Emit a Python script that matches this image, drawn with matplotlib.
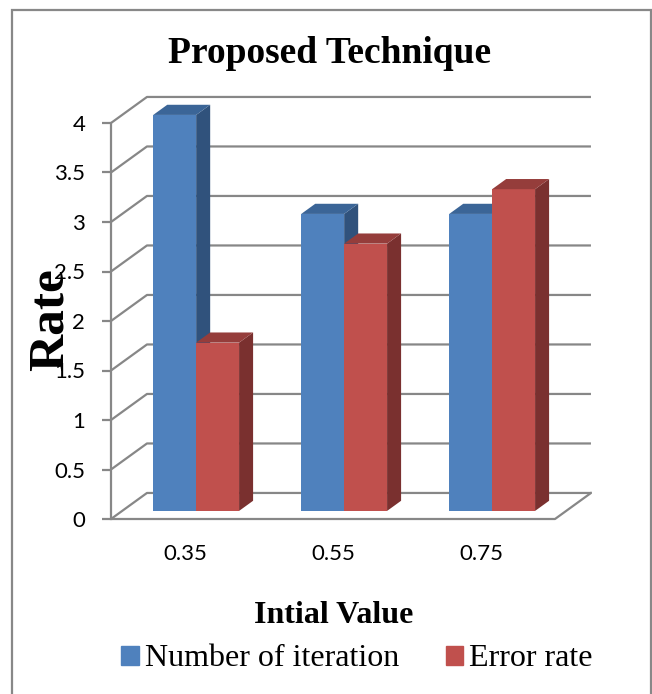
import matplotlib

matplotlib.use("Agg")
import matplotlib.pyplot as plt
from matplotlib.patches import Polygon, Rectangle

categorias = ["0.35", "0.55", "0.75"]
iteracoes = [4, 3, 3]
taxa_erro = [1.7, 2.7, 3.25]
series = ["Number of iteration", "Error rate"]
yticks = [0, 0.5, 1, 1.5, 2, 2.5, 3, 3.5, 4]

# cores estilo Excel 2007 (frente, lado, topo)
AZUL = ("#4F81BD", "#30527C", "#3B6597")
VERMELHO = ("#C0504D", "#7A302F", "#953D3B")
CINZA = "#878787"

# profundidade obliqua (unidades de dados)
KX, KY = 0.243, 0.263       # parede
D0, DB = 0.31, 0.39         # inicio e espessura da barra (fracao)
LARG = 0.29

SERIF = "Liberation Serif"
SANS = "Lato"

W, H = 652, 694
fig = plt.figure(figsize=(W / 100, H / 100), dpi=100)
ax = fig.add_axes([111 / W, (694 - 528.9) / H, 481 / W, 4.4 * 99 / H])
ax.set_xlim(-0.5, 2.75)
ax.set_ylim(-0.1, 4.3)

# grade: diagonal + parede do fundo
n = len(categorias)
for v in yticks:
    ax.plot([-0.5, -0.5 + KX, n - 0.5 + KX], [v, v + KY, v + KY],
            color=CINZA, lw=1.6, zorder=1, solid_capstyle="butt")
# chao
ax.plot([-0.5, n - 0.5, n - 0.5 + KX], [0, 0, KY], color=CINZA, lw=1.6, zorder=1)


def barra3d(ax, xl, h, cores):
    b0 = D0 * KY
    dx, dy = DB * KX, DB * KY
    ax.bar(xl, h, width=LARG, bottom=b0, align="edge", color=cores[0],
           zorder=3, linewidth=0)
    xr = xl + LARG
    lado = [(xr, b0), (xr + dx, b0 + dy), (xr + dx, b0 + h + dy), (xr, b0 + h)]
    topo = [(xl, b0 + h), (xl + dx, b0 + h + dy), (xr + dx, b0 + h + dy), (xr, b0 + h)]
    ax.add_patch(Polygon(lado, closed=True, color=cores[1], lw=0, zorder=3))
    ax.add_patch(Polygon(topo, closed=True, color=cores[2], lw=0, zorder=3))


for i in range(n):
    desl = D0 * KX
    barra3d(ax, i - LARG + desl, iteracoes[i], AZUL)
    barra3d(ax, i + desl, taxa_erro[i], VERMELHO)

for s in ["top", "right", "bottom"]:
    ax.spines[s].set_visible(False)
ax.spines["left"].set_bounds(0, 4)
ax.spines["left"].set_color(CINZA)
ax.spines["left"].set_linewidth(1.6)
ax.set_yticks(yticks)
ax.set_yticklabels([f"{v:g}" for v in yticks])
ax.tick_params(axis="y", length=6.5, width=1.6, color=CINZA, pad=12,
               labelsize=16, labelfontfamily=SANS)
ax.set_xticks(range(n))
ax.set_xticklabels(categorias)
ax.tick_params(axis="x", length=0, pad=11, labelsize=16, labelfontfamily=SANS)

fig.text(330 / W, 1 - 63 / H, "Proposed Technique", ha="center", va="baseline",
         fontsize=27, fontweight="bold", family=SERIF)
fig.text(51 / W, 1 - 320 / H, "Rate", ha="center", va="center", rotation=90,
         fontsize=37, fontweight="bold", family=SERIF)
fig.text(334 / W, 1 - 623 / H, "Intial Value", ha="center", va="baseline",
         fontsize=23, fontweight="bold", family=SERIF)

alcas = [Rectangle((0, 0), 1, 1, color=AZUL[0]), Rectangle((0, 0), 1, 1, color=VERMELHO[0])]
fig.legend(alcas, series, loc="center", bbox_to_anchor=(357 / W, 1 - 659 / H),
           ncol=2, frameon=False, handlelength=0.55, handleheight=0.55,
           handletextpad=0.2, columnspacing=1.45,
           prop={"family": SERIF, "size": 23})

fig.patches.append(Rectangle((12 / W, -0.02), (651 - 12) / W, 1.02 - 10 / H,
                             transform=fig.transFigure, fill=False,
                             edgecolor="#888888", lw=1.6))

fig.savefig("out.png", dpi=100)
